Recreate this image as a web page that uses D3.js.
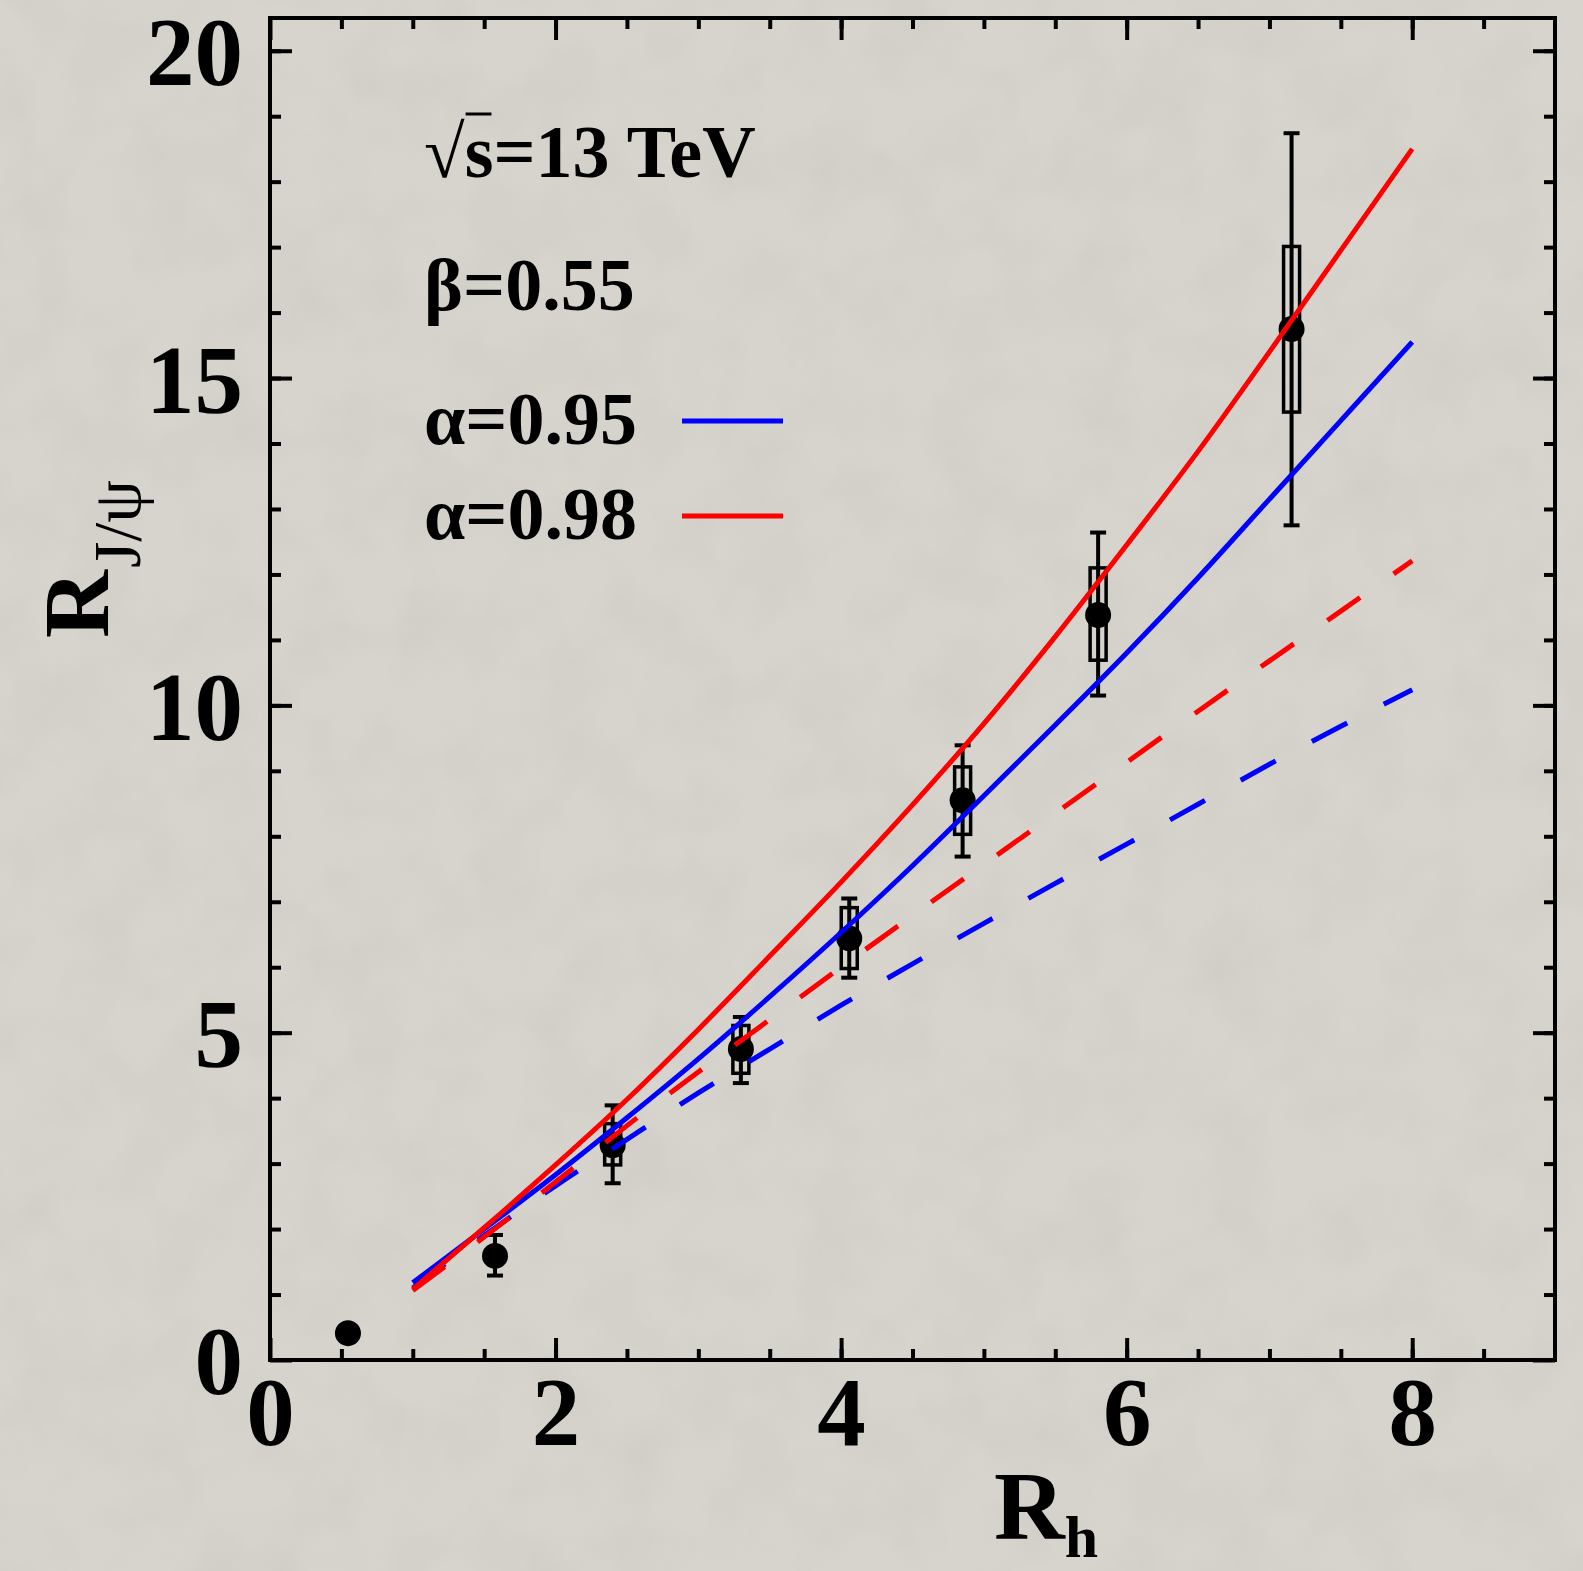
<!DOCTYPE html>
<html>
<head>
<meta charset="utf-8">
<script src="https://cdn.jsdelivr.net/npm/d3@7"></script>
<style>
  html, body { margin: 0; padding: 0; background: #d6d3cc; }
  svg { display: block; }
</style>
</head>
<body>
<svg id="chart"></svg>
<script>
// model curves, R_J/psi vs R_h
const rhGrid = [1, 1.5, 2, 2.5, 3, 3.5, 4, 4.5, 5, 5.5, 6, 6.5, 7, 7.5, 8];
const solid095 = [1.18, 2.00, 2.83, 3.70, 4.60, 5.55, 6.53, 7.55, 8.62, 9.70, 10.80, 11.95, 13.15, 14.35, 15.55];
const solid098 = [1.08, 2.02, 2.98, 3.98, 5.05, 6.17, 7.30, 8.48, 9.72, 11.05, 12.45, 13.88, 15.40, 16.95, 18.50];
const dashed095 = [1.10, 1.90, 2.66, 3.37, 4.08, 4.75, 5.42, 6.05, 6.67, 7.28, 7.88, 8.49, 9.10, 9.68, 10.24];
const dashed098 = [1.06, 1.88, 2.72, 3.58, 4.40, 5.20, 6.00, 6.79, 7.57, 8.35, 9.13, 9.91, 10.68, 11.44, 12.21];

// measured points
const dataRh = [0.546, 1.576, 2.40, 3.298, 4.057, 4.851, 5.80, 7.155];
const dataR  = [0.41, 1.59, 3.28, 4.75, 6.44, 8.55, 11.38, 15.75];
const statLo = [null, 1.29, 2.70, 4.23, 5.84, 7.69, 10.15, 12.75];
const statHi = [null, 1.91, 3.89, 5.24, 7.05, 9.39, 12.64, 18.74];
const sysLo  = [null, null, 2.98, 4.38, 5.98, 8.03, 10.69, 14.48];
const sysHi  = [null, null, 3.61, 5.11, 6.91, 9.06, 12.10, 17.01];

// ticks
const xMajor = [0, 2, 4, 6, 8];
const xMinor = [0.5, 1, 1.5, 2, 2.5, 3, 3.5, 4, 4.5, 5, 5.5, 6, 6.5, 7, 7.5, 8, 8.5];
const yMajor = [0, 5, 10, 15, 20];
const yMinor = d3.range(1, 21);

const annotations = ["β=0.55"];
const legendLabels = ["α=0.95", "α=0.98"];
const legendColors = ["#0000ff", "#ff0000"];

const W = 1583, H = 1571;
const margin = {top: 18, right: 28, bottom: 211, left: 270};
const width = W - margin.left - margin.right;
const height = H - margin.top - margin.bottom;
const serif = '"Liberation Serif", "Times New Roman", Times, serif';

const svg = d3.select('#chart').attr('width', W).attr('height', H);

// paper background
const defs = svg.append('defs');
const f = defs.append('filter').attr('id', 'paper').attr('x', 0).attr('y', 0).attr('width', 1).attr('height', 1);
f.append('feTurbulence').attr('type', 'fractalNoise').attr('baseFrequency', 0.015).attr('numOctaves', 3).attr('seed', 7);
f.append('feColorMatrix').attr('type', 'matrix')
  .attr('values', '0 0 0 0 0.45  0 0 0 0 0.44  0 0 0 0 0.41  0 0 0 0.9 -0.35');
svg.append('rect').attr('width', W).attr('height', H).attr('fill', '#d7d4cd');
svg.append('rect').attr('width', W).attr('height', H).attr('filter', 'url(#paper)').attr('opacity', 0.35);

const chart = svg.append('g').attr('transform', `translate(${margin.left},${margin.top})`);

const x = d3.scaleLinear().domain([0, 9]).range([0, width]);
const y = d3.scaleLinear().domain([0, 20.5]).range([height, 0]);

function styleAxis(g, fontSize) {
  g.select('.domain').remove();
  g.selectAll('.tick line').attr('stroke', '#000').attr('stroke-width', 4);
  g.selectAll('.tick text')
    .attr('font-family', serif)
    .attr('font-weight', 'bold')
    .attr('font-size', fontSize)
    .attr('fill', '#000');
}

// minor ticks on all sides
chart.append('g').attr('transform', `translate(0,${height})`)
  .call(d3.axisBottom(x).tickValues(xMinor).tickSize(-11).tickFormat(''))
  .call(styleAxis, 0);
chart.append('g')
  .call(d3.axisTop(x).tickValues(xMinor).tickSize(-11).tickFormat(''))
  .call(styleAxis, 0);
chart.append('g')
  .call(d3.axisLeft(y).tickValues(yMinor).tickSize(-11).tickFormat(''))
  .call(styleAxis, 0);
chart.append('g').attr('transform', `translate(${width},0)`)
  .call(d3.axisRight(y).tickValues(yMinor).tickSize(-11).tickFormat(''))
  .call(styleAxis, 0);

// major ticks
chart.append('g').attr('transform', `translate(0,${height})`)
  .call(d3.axisBottom(x).tickValues(xMajor).tickSize(-22).tickPadding(16).tickFormat(d3.format('d')))
  .call(styleAxis, 97);
chart.append('g')
  .call(d3.axisTop(x).tickValues(xMajor).tickSize(-22).tickFormat(''))
  .call(styleAxis, 0);
chart.append('g')
  .call(d3.axisLeft(y).tickValues(yMajor).tickSize(-22).tickPadding(27).tickFormat(d3.format('d')))
  .call(styleAxis, 97)
  .selectAll('.tick text').attr('dy', '0.35em');
chart.append('g').attr('transform', `translate(${width},0)`)
  .call(d3.axisRight(y).tickValues(yMajor).tickSize(-22).tickFormat(''))
  .call(styleAxis, 0);

// frame
chart.append('rect')
  .attr('width', width).attr('height', height)
  .attr('fill', 'none').attr('stroke', '#000').attr('stroke-width', 4);

// data points
const pts = dataRh.map((d, i) => ({x: d, y: dataR[i], lo: statLo[i], hi: statHi[i], slo: sysLo[i], shi: sysHi[i]}));
const pg = chart.append('g');
const withErr = pts.filter(d => d.lo !== null);
pg.selectAll('.err').data(withErr).join('line')
  .attr('x1', d => x(d.x)).attr('x2', d => x(d.x))
  .attr('y1', d => y(d.lo)).attr('y2', d => y(d.hi))
  .attr('stroke', '#000').attr('stroke-width', 4);
pg.selectAll('.capLo').data(withErr).join('line')
  .attr('x1', d => x(d.x) - 8).attr('x2', d => x(d.x) + 8)
  .attr('y1', d => y(d.lo)).attr('y2', d => y(d.lo))
  .attr('stroke', '#000').attr('stroke-width', 4);
pg.selectAll('.capHi').data(withErr).join('line')
  .attr('x1', d => x(d.x) - 8).attr('x2', d => x(d.x) + 8)
  .attr('y1', d => y(d.hi)).attr('y2', d => y(d.hi))
  .attr('stroke', '#000').attr('stroke-width', 4);
pg.selectAll('.sys').data(pts.filter(d => d.slo !== null)).join('rect')
  .attr('x', d => x(d.x) - 8).attr('width', 16)
  .attr('y', d => y(d.shi)).attr('height', d => y(d.slo) - y(d.shi))
  .attr('fill', 'none').attr('stroke', '#000').attr('stroke-width', 3.5);
pg.selectAll('circle').data(pts).join('circle')
  .attr('cx', d => x(d.x)).attr('cy', d => y(d.y)).attr('r', 13)
  .attr('fill', '#000');

// curves
const line = d3.line().x(d => x(d[0])).y(d => y(d[1])).curve(d3.curveMonotoneX);
const curves = [
  {vals: dashed095, color: '#0000ff', dash: '40,41'},
  {vals: dashed098, color: '#ff0000', dash: '40,41'},
  {vals: solid095, color: '#0000ff', dash: null},
  {vals: solid098, color: '#ff0000', dash: null}
];
chart.append('g').selectAll('path').data(curves).join('path')
  .attr('d', c => line(rhGrid.map((r, i) => [r, c.vals[i]])))
  .attr('fill', 'none')
  .attr('stroke', c => c.color)
  .attr('stroke-width', 5)
  .attr('stroke-dasharray', c => c.dash);

// annotations
const ann = svg.append('g').attr('font-family', serif).attr('font-weight', 'bold').attr('font-size', 74).attr('fill', '#000');
const sq = ann.append('text').attr('x', 424).attr('y', 177);
sq.append('tspan').attr('font-weight', 'normal').text('√');
sq.append('tspan').text('s=13 TeV');
const sExt = sq.node().getExtentOfChar(1);
ann.append('line')
  .attr('x1', sExt.x + 1).attr('x2', sExt.x + sExt.width - 2)
  .attr('y1', 114).attr('y2', 114)
  .attr('stroke', '#000').attr('stroke-width', 3);
ann.append('text').attr('x', 424).attr('y', 310).text(annotations[0]);

const leg = ann.selectAll('.leg').data(legendLabels).join('g')
  .attr('transform', (d, i) => `translate(424,${444 + i * 95})`);
leg.append('text').text(d => d);
leg.append('line')
  .attr('x1', 258).attr('x2', 359).attr('y1', -23).attr('y2', -23)
  .attr('stroke', (d, i) => legendColors[i]).attr('stroke-width', 5);

// axis titles
const xt = svg.append('text').attr('x', 994).attr('y', 1539)
  .attr('font-family', serif).attr('font-weight', 'bold').attr('font-size', 98);
xt.append('tspan').text('R');
xt.append('tspan').attr('font-size', 60).attr('dy', 18).text('h');

const yt = svg.append('text').attr('transform', 'translate(108,638) rotate(-90)')
  .attr('font-family', serif).attr('font-size', 94);
yt.append('tspan').attr('font-weight', 'bold').text('R');
yt.append('tspan').attr('font-size', 68).attr('dy', 32).attr('dx', 2).text('J/ψ');
</script>
</body>
</html>
